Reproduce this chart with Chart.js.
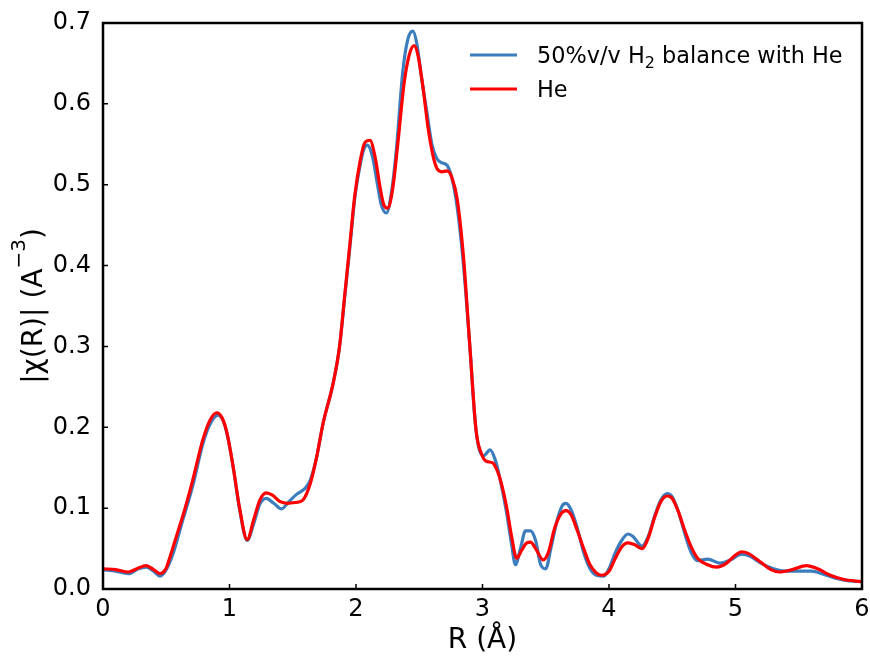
<!DOCTYPE html>
<html>
<head>
<meta charset="utf-8">
<script src="https://cdn.jsdelivr.net/npm/chart.js@4"></script>
<style>
  html, body { margin: 0; padding: 0; background: #fff; }
  #wrap { width: 870px; height: 658px; position: relative; }
</style>
</head>
<body>
<div id="wrap"><canvas id="chi"></canvas></div>
<script>
// |chi(R)| magnitude, 50% H2 in He
const h2R = [0.00, 0.10, 0.20, 0.28, 0.34, 0.40, 0.45, 0.50, 0.55, 0.63, 0.71, 0.79, 0.85, 0.91, 0.95, 0.98,
  1.03, 1.08, 1.14, 1.19, 1.24, 1.29, 1.35, 1.41, 1.47, 1.53, 1.60, 1.64, 1.69, 1.74, 1.82, 1.87, 1.91, 1.95, 1.99,
  2.03, 2.06, 2.09, 2.13, 2.17, 2.20, 2.24, 2.28, 2.32, 2.37, 2.41, 2.45, 2.48, 2.52, 2.56, 2.60, 2.64, 2.68, 2.72,
  2.77, 2.81, 2.85, 2.90, 2.94, 2.97, 3.01, 3.06, 3.10, 3.14, 3.19, 3.23, 3.26, 3.30, 3.34, 3.38, 3.42, 3.46, 3.50,
  3.54, 3.59, 3.63, 3.66, 3.70, 3.75, 3.80, 3.85, 3.90, 3.96, 4.00, 4.05, 4.10, 4.15, 4.19, 4.26, 4.31, 4.36, 4.41,
  4.46, 4.50, 4.55, 4.60, 4.65, 4.70, 4.78, 4.88, 4.96, 5.05, 5.12, 5.20, 5.30, 5.40, 5.50, 5.60, 5.70, 5.80, 5.90, 6.00];
const h2Chi = [0.024, 0.022, 0.019, 0.025, 0.027, 0.022, 0.016, 0.024, 0.042, 0.085, 0.128, 0.180, 0.205, 0.215, 0.208, 0.192,
  0.150, 0.098, 0.060, 0.080, 0.105, 0.112, 0.106, 0.099, 0.108, 0.117, 0.125, 0.135, 0.164, 0.205, 0.255, 0.300, 0.360, 0.420, 0.483,
  0.522, 0.543, 0.549, 0.535, 0.500, 0.475, 0.465, 0.490, 0.545, 0.640, 0.680, 0.690, 0.675, 0.630, 0.590, 0.550, 0.532, 0.527, 0.524,
  0.500, 0.460, 0.400, 0.300, 0.210, 0.175, 0.165, 0.172, 0.160, 0.135, 0.095, 0.055, 0.030, 0.050, 0.072, 0.072, 0.060, 0.030, 0.025,
  0.050, 0.085, 0.103, 0.106, 0.098, 0.075, 0.045, 0.025, 0.017, 0.016, 0.025, 0.045, 0.060, 0.068, 0.065, 0.053, 0.065, 0.090, 0.110,
  0.118, 0.114, 0.095, 0.068, 0.045, 0.035, 0.037, 0.032, 0.036, 0.043, 0.040, 0.032, 0.025, 0.022, 0.022, 0.022, 0.018, 0.013, 0.010, 0.009];

// |chi(R)| magnitude, pure He
const heR = [0.00, 0.10, 0.20, 0.28, 0.34, 0.40, 0.45, 0.50, 0.53, 0.60, 0.64, 0.71, 0.79, 0.85, 0.90, 0.94, 0.98,
  1.03, 1.08, 1.14, 1.19, 1.24, 1.29, 1.34, 1.40, 1.46, 1.52, 1.58, 1.64, 1.69, 1.74, 1.82, 1.87, 1.91, 1.95, 1.99,
  2.03, 2.07, 2.11, 2.15, 2.19, 2.22, 2.25, 2.29, 2.33, 2.38, 2.42, 2.46, 2.49, 2.53, 2.57, 2.61, 2.64, 2.68, 2.72,
  2.76, 2.80, 2.85, 2.90, 2.95, 2.99, 3.03, 3.08, 3.12, 3.15, 3.19, 3.23, 3.27, 3.31, 3.35, 3.38, 3.42, 3.48, 3.52,
  3.57, 3.62, 3.66, 3.70, 3.75, 3.80, 3.85, 3.94, 4.00, 4.05, 4.10, 4.15, 4.20, 4.26, 4.31, 4.36, 4.41, 4.46, 4.50,
  4.55, 4.60, 4.65, 4.70, 4.78, 4.85, 4.93, 5.00, 5.05, 5.10, 5.20, 5.28, 5.35, 5.45, 5.56, 5.65, 5.75, 5.85, 6.00];
const heChi = [0.025, 0.024, 0.021, 0.026, 0.029, 0.024, 0.019, 0.026, 0.040, 0.075, 0.095, 0.135, 0.185, 0.210, 0.218, 0.212, 0.193,
  0.150, 0.100, 0.061, 0.085, 0.110, 0.119, 0.116, 0.108, 0.106, 0.107, 0.110, 0.131, 0.164, 0.205, 0.255, 0.300, 0.362, 0.424, 0.486,
  0.527, 0.552, 0.555, 0.535, 0.497, 0.475, 0.471, 0.495, 0.550, 0.625, 0.660, 0.672, 0.660, 0.620, 0.570, 0.535, 0.520, 0.516, 0.517,
  0.508, 0.482, 0.410, 0.300, 0.195, 0.168, 0.158, 0.156, 0.145, 0.130, 0.102, 0.065, 0.038, 0.048, 0.057, 0.058, 0.050, 0.036, 0.045,
  0.075, 0.093, 0.097, 0.092, 0.072, 0.050, 0.030, 0.017, 0.022, 0.038, 0.052, 0.057, 0.055, 0.050, 0.063, 0.088, 0.108, 0.115, 0.112,
  0.095, 0.072, 0.052, 0.038, 0.030, 0.027, 0.032, 0.042, 0.046, 0.044, 0.033, 0.024, 0.021, 0.024, 0.029, 0.025, 0.017, 0.012, 0.009];

// label pieces: [text, 'sub' | 'sup' | null]
const h2Label = [['50%v/v H', null], ['2', 'sub'], [' balance with He', null]];
const heLabel = [['He', null]];
const yTitle = [['|\u03c7(R)| (A', null], ['\u22123', 'sup'], [')', null]];
const xTicks = [0, 1, 2, 3, 4, 5, 6];
const yTicks = [0.0, 0.1, 0.2, 0.3, 0.4, 0.5, 0.6, 0.7];

const toPoints = (xs, ys) => xs.map((x, i) => ({ x: x, y: ys[i] }));
const FONT = "'DejaVu Sans', sans-serif";

// draws text with sub/superscript runs, starting at x on baseline y
function drawRich(ctx, parts, x, y, size) {
  const small = Math.round(size * 0.7);
  let w = 0;
  parts.forEach(([t, kind]) => {
    ctx.font = (kind ? small : size) + 'px ' + FONT;
    const dy = kind === 'sub' ? size * 0.22 : kind === 'sup' ? -size * 0.6 : 0;
    ctx.fillText(t, x + w, y + dy);
    w += ctx.measureText(t).width;
  });
  return w;
}
function richWidth(ctx, parts, size) {
  const small = Math.round(size * 0.7);
  return parts.reduce((w, [t, kind]) => {
    ctx.font = (kind ? small : size) + 'px ' + FONT;
    return w + ctx.measureText(t).width;
  }, 0);
}

// black box round the plot, with short ticks pointing inward
const frame = {
  id: 'frame',
  afterDatasetsDraw(chart) {
    const { ctx, chartArea: a, scales } = chart;
    ctx.save();
    ctx.strokeStyle = '#000';
    ctx.lineWidth = 1.5;
    ctx.beginPath();
    xTicks.forEach(v => {
      const px = scales.x.getPixelForValue(v);
      ctx.moveTo(px, a.bottom); ctx.lineTo(px, a.bottom - 5);
    });
    yTicks.forEach(v => {
      const py = scales.y.getPixelForValue(v);
      ctx.moveTo(a.left, py); ctx.lineTo(a.left + 5, py);
    });
    ctx.stroke();
    ctx.lineWidth = 2.5;
    ctx.strokeRect(a.left, a.top, a.right - a.left, a.bottom - a.top);
    ctx.restore();
  }
};

// legend inside the upper right corner, plus the rotated y title
const labels = {
  id: 'labels',
  afterDraw(chart) {
    const { ctx, chartArea: a } = chart;
    ctx.save();
    ctx.fillStyle = '#000';
    ctx.textBaseline = 'alphabetic';
    [h2Label, heLabel].forEach((parts, i) => {
      const ds = chart.data.datasets[i];
      const y = 55 + i * 34;
      ctx.strokeStyle = ds.borderColor;
      ctx.lineWidth = 3;
      ctx.beginPath();
      ctx.moveTo(470, y); ctx.lineTo(517, y);
      ctx.stroke();
      drawRich(ctx, parts, 537, y + 8, 22.4);
    });

    const size = 28;
    const w = richWidth(ctx, yTitle, size);
    ctx.translate(42, (a.top + a.bottom) / 2);
    ctx.rotate(-Math.PI / 2);
    drawRich(ctx, yTitle, -w / 2, 0, size);
    ctx.restore();
  }
};

new Chart(document.getElementById('chi'), {
  type: 'line',
  data: {
    datasets: [
      {
        label: '50%v/v H2 balance with He',
        data: toPoints(h2R, h2Chi),
        borderColor: '#3b7dbd',
        borderWidth: 3.2,
        pointRadius: 0,
        cubicInterpolationMode: 'monotone',
        order: 2,
      },
      {
        label: 'He',
        data: toPoints(heR, heChi),
        borderColor: '#ff0000',
        borderWidth: 3.2,
        pointRadius: 0,
        cubicInterpolationMode: 'monotone',
        order: 1,
      },
    ],
  },
  options: {
    responsive: true,
    maintainAspectRatio: false,
    animation: false,
    events: [],
    layout: { padding: { top: 23, right: 8, left: 0, bottom: 0 } },
    plugins: {
      legend: { display: false },
      tooltip: { enabled: false },
    },
    scales: {
      x: {
        type: 'linear',
        min: 0,
        max: 6,
        afterBuildTicks: s => { s.ticks = xTicks.map(v => ({ value: v })); },
        afterFit: s => { s.height = 69; s.paddingLeft = 0; s.paddingRight = 0; },
        grid: { display: false, drawTicks: false },
        border: { display: false },
        ticks: { color: '#000', font: { family: FONT, size: 24 }, padding: 6 },
        title: {
          display: true,
          text: 'R (\u00c5)',
          color: '#000',
          font: { family: FONT, size: 28 },
          padding: { top: 0, bottom: 0 },
        },
      },
      y: {
        min: 0,
        max: 0.7,
        afterBuildTicks: s => { s.ticks = yTicks.map(v => ({ value: v })); },
        afterFit: s => { s.width = 103; s.paddingTop = 0; s.paddingBottom = 0; },
        grid: { display: false, drawTicks: false },
        border: { display: false },
        ticks: {
          color: '#000',
          font: { family: FONT, size: 24 },
          padding: 12,
          callback: v => v.toFixed(1),
        },
      },
    },
  },
  plugins: [frame, labels],
});
</script>
</body>
</html>
